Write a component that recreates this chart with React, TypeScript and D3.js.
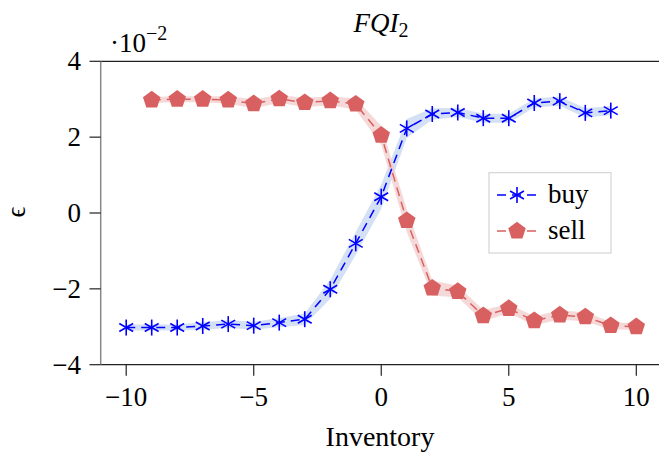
import React from "react";
import * as d3 from "d3";

const buyX = [-10, -9, -8, -7, -6, -5, -4, -3, -2, -1, 0, 1, 2, 3, 4, 5, 6, 7, 8, 9];
const buyY = [-3.02, -3.02, -3.02, -2.98, -2.93, -2.97, -2.89, -2.8, -2.01, -0.8, 0.43, 2.23, 2.61, 2.65, 2.5, 2.5, 2.9, 2.95, 2.64, 2.7];
const buySd = [0.08, 0.08, 0.08, 0.1, 0.1, 0.1, 0.12, 0.15, 0.25, 0.3, 0.32, 0.25, 0.15, 0.12, 0.12, 0.12, 0.12, 0.12, 0.12, 0.12];

const sellX = [-9, -8, -7, -6, -5, -4, -3, -2, -1, 0, 1, 2, 3, 4, 5, 6, 7, 8, 9, 10];
const sellY = [2.98, 3.0, 3.0, 2.98, 2.88, 3.01, 2.91, 2.96, 2.87, 2.05, -0.2, -1.98, -2.07, -2.71, -2.52, -2.84, -2.69, -2.74, -2.97, -3.0];
const sellSd = [0.08, 0.08, 0.08, 0.1, 0.12, 0.1, 0.12, 0.12, 0.15, 0.25, 0.3, 0.2, 0.15, 0.15, 0.12, 0.12, 0.12, 0.12, 0.1, 0.08];

const xTicks = [-10, -5, 0, 5, 10];
const yTicks = [-4, -2, 0, 2, 4];

const W = 659;
const H = 454;
const font = "'Liberation Serif', 'DejaVu Serif', serif";
const blue = "#0000ff";
const red = "#d96060";
const fs = 27;

const x = d3.scaleLinear().domain([-11, 11]).range([100.7, 661.8]);
const y = d3.scaleLinear().domain([-4, 4]).range([364.7, 61.3]);

const fmt = (v: number) => (v < 0 ? "\u2212" + Math.abs(v) : String(v));

function Star({ cx, cy, r }: { cx: number; cy: number; r: number }) {
  const angles = [90, 30, 150];
  return (
    <g stroke={blue} strokeWidth={1.6}>
      {angles.map((a) => {
        const dx = r * Math.cos((a * Math.PI) / 180);
        const dy = r * Math.sin((a * Math.PI) / 180);
        return <line key={a} x1={cx - dx} y1={cy - dy} x2={cx + dx} y2={cy + dy} />;
      })}
    </g>
  );
}

function Pentagon({ cx, cy, r }: { cx: number; cy: number; r: number }) {
  const pts = d3.range(5).map((i) => {
    const a = -Math.PI / 2 + (i * 2 * Math.PI) / 5;
    return [cx + r * Math.cos(a), cy + r * Math.sin(a)].join(",");
  });
  return <polygon points={pts.join(" ")} fill={red} />;
}

export default function App() {
  const mkLine = (xs: number[], ys: number[]) =>
    d3
      .line<number>()
      .x((_, i) => x(xs[i]))
      .y((d) => y(d))(ys) || "";

  const mkBand = (xs: number[], ys: number[], sd: number[]) =>
    d3
      .area<number>()
      .x((_, i) => x(xs[i]))
      .y0((d, i) => y(d - sd[i]))
      .y1((d, i) => y(d + sd[i]))(ys) || "";

  return (
    <svg
      width={W}
      height={H}
      style={{ position: "absolute", left: 0, top: 0, background: "#fff" }}
      fontFamily={font}
    >
      {/* bands */}
      <path d={mkBand(buyX, buyY, buySd)} fill="#c5d5f0" opacity={0.75} />
      <path d={mkBand(sellX, sellY, sellSd)} fill="#f2cccc" opacity={0.75} />

      {/* lines */}
      <path d={mkLine(buyX, buyY)} fill="none" stroke={blue} strokeWidth={1.5} strokeDasharray="9 6" />
      <path d={mkLine(sellX, sellY)} fill="none" stroke={red} strokeWidth={1.5} strokeDasharray="9 6" />

      {/* markers */}
      {buyX.map((v, i) => (
        <Star key={"b" + i} cx={x(v)} cy={y(buyY[i])} r={8} />
      ))}
      {sellX.map((v, i) => (
        <Pentagon key={"s" + i} cx={x(v)} cy={y(sellY[i])} r={9.2} />
      ))}

      {/* axes */}
      <line x1={100.7} x2={W} y1={y(4)} y2={y(4)} stroke="#222" strokeWidth={1.3} />
      <line x1={100.7} x2={W} y1={y(-4)} y2={y(-4)} stroke="#222" strokeWidth={1.3} />
      <line x1={100.7} x2={100.7} y1={y(4)} y2={y(-4)} stroke="#888" strokeWidth={1.5} />

      {yTicks.map((t) => (
        <g key={"yt" + t}>
          <line x1={89.5} x2={100.7} y1={y(t)} y2={y(t)} stroke="#222" strokeWidth={1.2} />
          <text x={81} y={y(t) + 9} textAnchor="end" fontSize={fs}>
            {fmt(t)}
          </text>
        </g>
      ))}
      {xTicks.map((t) => (
        <g key={"xt" + t}>
          <line x1={x(t)} x2={x(t)} y1={y(-4)} y2={y(-4) + 11} stroke="#222" strokeWidth={1.2} />
          <text x={x(t)} y={406} textAnchor="middle" fontSize={fs}>
            {fmt(t)}
          </text>
        </g>
      ))}

      {/* scale label */}
      <text x={110} y={52} fontSize={fs}>
        ·10
        <tspan dy={-12} fontSize={20}>
          {"\u22122"}
        </tspan>
      </text>

      {/* title */}
      <text x={381} y={32} textAnchor="middle" fontSize={fs}>
        <tspan fontStyle="italic">FQI</tspan>
        <tspan dy={5} fontSize={20}>
          2
        </tspan>
      </text>

      {/* axis labels */}
      <text x={380} y={446} textAnchor="middle" fontSize={28}>
        Inventory
      </text>
      <text transform="translate(25,212) rotate(-90)" textAnchor="middle" fontSize={fs}>
        ϵ
      </text>

      {/* legend */}
      <rect x={489} y={172.7} width={122} height={80.3} fill="#fff" stroke="#ccc" strokeWidth={1} />
      <line x1={497} x2={537} y1={195} y2={195} stroke={blue} strokeWidth={1.5} strokeDasharray="9 6" />
      <Star cx={517} cy={195} r={8} />
      <text x={548} y={203} fontSize={fs}>
        buy
      </text>
      <line x1={497} x2={537} y1={231} y2={231} stroke={red} strokeWidth={1.5} strokeDasharray="9 6" />
      <Pentagon cx={517} cy={231} r={9.2} />
      <text x={548} y={239} fontSize={fs}>
        sell
      </text>
    </svg>
  );
}
